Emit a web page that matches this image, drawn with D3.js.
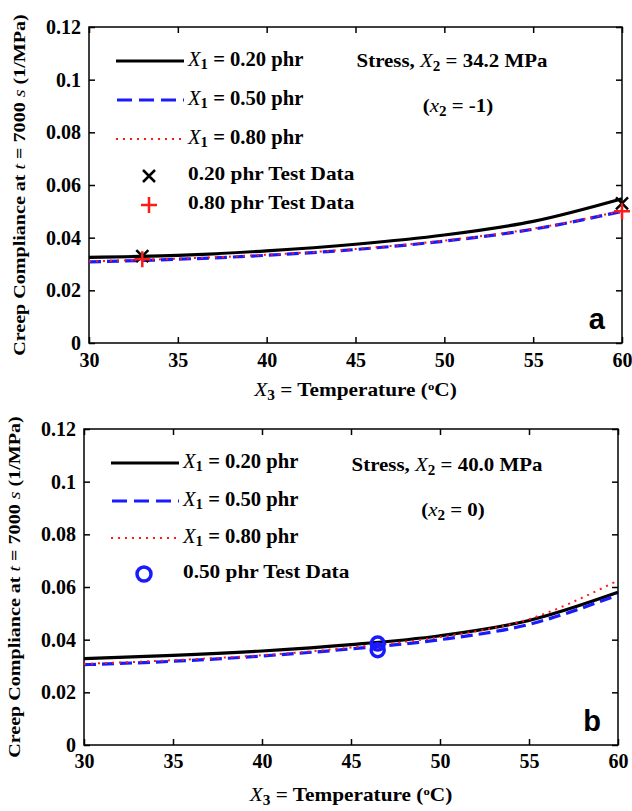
<!DOCTYPE html>
<html><head><meta charset="utf-8">
<script src="https://cdn.jsdelivr.net/npm/d3@7"></script>
<style>body{margin:0;background:#fff}svg{display:block}</style>
</head><body>
<script>
// ---- data ----
const temps = [30, 35, 40, 45, 50, 55, 60];
const xTicks = [30, 35, 40, 45, 50, 55, 60];
const yTicks = [0, 0.02, 0.04, 0.06, 0.08, 0.1, 0.12];
const yTickLabels = ["0", "0.02", "0.04", "0.06", "0.08", "0.1", "0.12"];

// panel a (X2 = 34.2 MPa)
const a_020 = [0.0325, 0.0333, 0.0350, 0.0375, 0.0410, 0.0462, 0.0548];
const a_050 = [0.0308, 0.0318, 0.0333, 0.0355, 0.0387, 0.0432, 0.0500];
const a_080 = [0.0310, 0.0320, 0.0335, 0.0357, 0.0389, 0.0434, 0.0502];
const a_test020 = [[33, 0.0330], [60, 0.0530]];
const a_test080 = [[33, 0.0318], [60, 0.0500]];

// panel b (X2 = 40.0 MPa)
const b_020 = [0.0328, 0.0340, 0.0357, 0.0381, 0.0415, 0.0473, 0.0580];
const b_050 = [0.0305, 0.0318, 0.0338, 0.0365, 0.0400, 0.0458, 0.0570];
const b_080 = [0.0308, 0.0322, 0.0341, 0.0370, 0.0410, 0.0478, 0.0625];
const b_test050 = [[46.5, 0.0385], [46.5, 0.0360]];

const W = 632, H = 811;
const svg = d3.select("body").append("svg").attr("width", W).attr("height", H);
const FONT = "'Liberation Serif', 'Times New Roman', serif";

function richText(g, x, y, parts, opts) {
  const t = g.append("text").attr("class", "serif").attr("x", x).attr("y", y)
    .attr("font-family", FONT).attr("font-weight", "bold")
    .attr("font-size", opts.size).attr("text-anchor", opts.anchor || "start")
    .attr("dominant-baseline", "middle")
    .attr("data-stretch", opts.stretch || 1);
  if (opts.transform) t.attr("transform", opts.transform);
  parts.forEach(p => {
    const ts = t.append("tspan").text(p.t);
    if (p.i) ts.attr("font-style", "italic").attr("font-weight", "normal");
    if (p.sub) ts.attr("baseline-shift", "-35%").attr("font-size", opts.size * 0.72);
    if (p.sup) ts.attr("baseline-shift", "45%").attr("font-size", opts.size * 0.6);
  });
  return t;
}

function xMarker(g, x, y, s, color) {
  g.append("path").attr("d", `M${x-s},${y-s}L${x+s},${y+s}M${x-s},${y+s}L${x+s},${y-s}`)
    .attr("stroke", color).attr("stroke-width", 2.5).attr("fill", "none");
}
function plusMarker(g, x, y, s, color) {
  g.append("path").attr("d", `M${x-s},${y}L${x+s},${y}M${x},${y-s}L${x},${y+s}`)
    .attr("stroke", color).attr("stroke-width", 2.5).attr("fill", "none");
}
function circMarker(g, x, y, r, color) {
  g.append("path").attr("d", d3.symbol().type(d3.symbolCircle).size(Math.PI*r*r)()).attr("transform", `translate(${x},${y})`)
    .attr("stroke", color).attr("stroke-width", 3.5).attr("fill", "none");
}

const styles = {
  s020: {color: "#000", width: 3.2, dash: null},
  s050: {color: "#1a1aff", width: 3.2, dash: "12,6"},
  s080: {color: "#ff1a1a", width: 2, dash: "2,5"}
};

function drawPanel(cfg) {
  const g = svg.append("g");
  const x = d3.scaleLinear().domain([30, 60]).range([cfg.left, cfg.right]);
  const y = d3.scaleLinear().domain([0, 0.12]).range([cfg.bottom, cfg.top]);

  g.append("rect").attr("x", cfg.left).attr("y", cfg.top)
    .attr("width", cfg.right - cfg.left).attr("height", cfg.bottom - cfg.top)
    .attr("fill", "none").attr("stroke", "#000").attr("stroke-width", 1.5);

  const axB = d3.axisBottom(x).tickValues(xTicks).tickSizeInner(-6).tickSizeOuter(0).tickPadding(cfg.xPad);
  const axT = d3.axisTop(x).tickValues(xTicks).tickSizeInner(-6).tickSizeOuter(0).tickFormat("");
  const axL = d3.axisLeft(y).tickValues(yTicks).tickSizeInner(-6).tickSizeOuter(0).tickPadding(8)
    .tickFormat((d, i) => yTickLabels[i]);
  const axR = d3.axisRight(y).tickValues(yTicks).tickSizeInner(-6).tickSizeOuter(0).tickFormat("");
  [[axB, `translate(0,${cfg.bottom})`], [axT, `translate(0,${cfg.top})`],
   [axL, `translate(${cfg.left},0)`], [axR, `translate(${cfg.right},0)`]].forEach(([ax, tr]) => {
    const a = g.append("g").attr("transform", tr).call(ax);
    a.select(".domain").remove();
    a.selectAll("line").attr("stroke", "#000").attr("stroke-width", 1.5);
    a.selectAll("text").attr("font-family", FONT).attr("font-weight", "bold")
      .attr("font-size", 20).attr("fill", "#000");
  });

  const line = d3.line().x(d => x(d[0])).y(d => y(d[1])).curve(d3.curveMonotoneX);
  cfg.series.forEach(s => {
    const st = styles[s.style];
    const p = g.append("path").datum(temps.map((t, i) => [t, s.values[i]]))
      .attr("d", line).attr("fill", "none").attr("stroke", st.color).attr("stroke-width", st.width);
    if (st.dash) p.attr("stroke-dasharray", st.dash);
  });

  cfg.tests.forEach(t => {
    t.data.forEach(d => {
      if (t.type === "x") xMarker(g, x(d[0]), y(d[1]), 6, "#000");
      if (t.type === "plus") plusMarker(g, x(d[0]), y(d[1]), 8, "#ff1a1a");
      if (t.type === "circle") circMarker(g, x(d[0]), y(d[1]), 6.5, "#1a1aff");
    });
  });

  const lx0 = cfg.left + 27, lx1 = cfg.left + 95, tx = cfg.left + 99;
  cfg.series.forEach((s, i) => {
    const st = styles[s.style];
    const yy = cfg.legendY[i];
    const p = g.append("line").attr("x1", lx0).attr("x2", lx1).attr("y1", yy).attr("y2", yy)
      .attr("stroke", st.color).attr("stroke-width", st.width);
    if (s.style === "s050") p.attr("stroke-dasharray", "15,7").attr("x1", lx0 + 1);
    if (s.style === "s080") p.attr("stroke-dasharray", "2,5");
    richText(g, tx, yy, [{t: "X", i: true}, {t: "1", sub: true}, {t: " = " + s.label}], {size: 20, stretch: 1.03});
  });
  cfg.tests.forEach((t, j) => {
    const yy = cfg.legendY[cfg.series.length + j];
    const mx = cfg.left + 60;
    if (t.type === "x") xMarker(g, mx, yy, 6, "#000");
    if (t.type === "plus") plusMarker(g, mx, yy, 8, "#ff1a1a");
    if (t.type === "circle") circMarker(g, mx, yy, 7, "#1a1aff");
    richText(g, tx, yy, [{t: t.label}], {size: 19, stretch: 1.12});
  });

  richText(g, cfg.annX, cfg.annY1, [{t: "Stress, "}, {t: "X", i: true}, {t: "2", sub: true}, {t: " = " + cfg.stress}], {size: 19, anchor: "middle", stretch: 1.1});
  richText(g, cfg.annX + 6, cfg.annY2, [{t: "("}, {t: "x", i: true}, {t: "2", sub: true}, {t: " = " + cfg.coded + ")"}], {size: 19, anchor: "middle", stretch: 1.1});

  g.append("text").attr("x", cfg.right - 17).attr("y", cfg.bottom - 14).attr("text-anchor", "end")
    .attr("font-family", "'Liberation Sans', Arial, sans-serif").attr("font-weight", "bold")
    .attr("font-size", 29).text(cfg.letter);

  const cx = (cfg.left + cfg.right) / 2, cy = (cfg.top + cfg.bottom) / 2;
  richText(g, cx, cfg.bottom + cfg.titleDy, [{t: "X", i: true}, {t: "3", sub: true}, {t: " = Temperature ("}, {t: "o", sup: true}, {t: "C)"}], {size: 19, anchor: "middle", stretch: 1.12});
  richText(g, 0, 0, [{t: "Creep  Compliance at  "}, {t: "t", i: true}, {t: " = 7000 "}, {t: "s", i: true}, {t: " (1/MPa)"}],
    {size: 17, anchor: "middle", stretch: 1.18, transform: `translate(${cfg.left - 68},${cy}) rotate(-90)`});
}

drawPanel({
  left: 89, right: 622, top: 27, bottom: 343, letter: "a", xPad: 10, titleDy: 49,
  series: [{style: "s020", values: a_020, label: "0.20 phr"},
           {style: "s050", values: a_050, label: "0.50 phr"},
           {style: "s080", values: a_080, label: "0.80 phr"}],
  tests: [{type: "x", data: a_test020, label: "0.20 phr Test Data"},
          {type: "plus", data: a_test080, label: "0.80 phr Test Data"}],
  legendY: [61, 100, 139, 176, 205],
  stress: "34.2 MPa", coded: "-1", annX: 452, annY1: 63, annY2: 108
});

drawPanel({
  left: 84, right: 618, top: 429, bottom: 745, letter: "b", xPad: 9, titleDy: 52,
  series: [{style: "s020", values: b_020, label: "0.20 phr"},
           {style: "s050", values: b_050, label: "0.50 phr"},
           {style: "s080", values: b_080, label: "0.80 phr"}],
  tests: [{type: "circle", data: b_test050, label: "0.50 phr Test Data"}],
  legendY: [463, 501, 538, 574],
  stress: "40.0 MPa", coded: "0", annX: 447, annY1: 467, annY2: 512
});

// horizontal stretch of serif text to match the reference's wide glyphs
svg.selectAll("text.serif").each(function() {
  const k = +this.getAttribute("data-stretch");
  const L = this.getComputedTextLength();
  if (L > 0 && k !== 1) {
    this.setAttribute("textLength", (L * k).toFixed(1));
    this.setAttribute("lengthAdjust", "spacingAndGlyphs");
  }
});
</script>
</body></html>
